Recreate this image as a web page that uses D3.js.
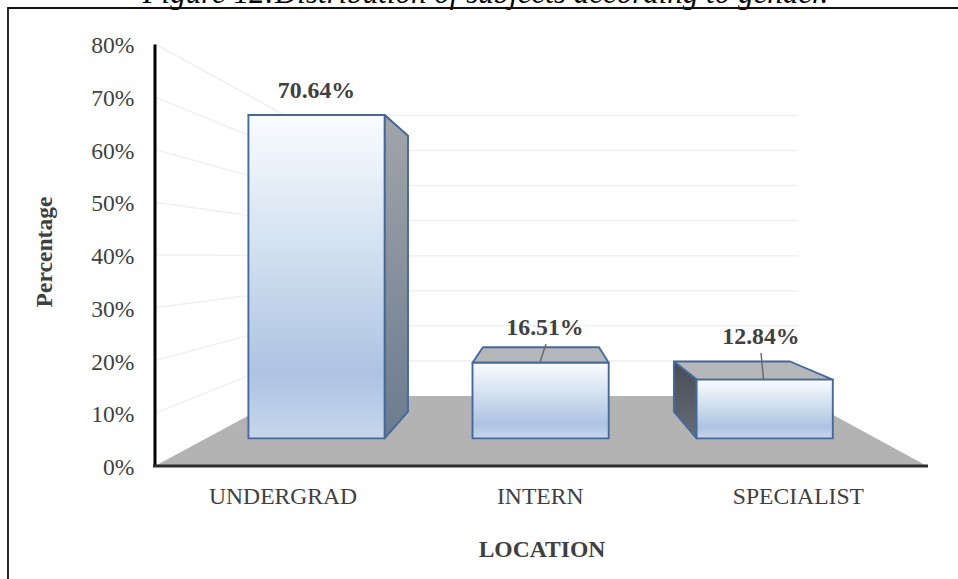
<!DOCTYPE html>
<html><head><meta charset="utf-8">
<style>html,body{margin:0;padding:0;background:#fff}svg{display:block}text{font-family:"Liberation Serif",serif}</style>
<script src="https://cdn.jsdelivr.net/npm/d3@7/dist/d3.min.js"></script></head>
<body><svg id="c" width="958" height="579"></svg>
<script>
const categories=["UNDERGRAD","INTERN","SPECIALIST"];
const values=[70.64,16.51,12.84];
const valueLabels=["70.64%","16.51%","12.84%"];
const yTicks=[0,10,20,30,40,50,60,70,80];
const titleText="Figure 12:Distribution of subjects according to gender.";
const xTitle="LOCATION", yTitle="Percentage";

const svg=d3.select("#c");
const x=d3.scaleBand().domain(categories).range([153,927.5]).paddingInner(0.392).paddingOuter(0.196);
const y=d3.scaleLinear().domain([0,80]).range([466,44]);
// one-point perspective: s=1 at the axes plane, smaller further back
const vp=[543,257], S={front:1,barF:0.868,barB:0.74,back:0.665};
const P=(X,v,s)=>[vp[0]+(X-vp[0])*s, vp[1]+(y(v)-vp[1])*s];
const line=pts=>"M"+pts.map(p=>p.map(n=>n.toFixed(1)).join(",")).join("L")+"Z";
const open=pts=>"M"+pts.map(p=>p.map(n=>n.toFixed(1)).join(",")).join("L");

const defs=svg.append("defs");
function grad(id,stops){const g=defs.append("linearGradient").attr("id",id).attr("x1",0).attr("x2",0).attr("y1",0).attr("y2",1);
 stops.forEach(([o,c])=>g.append("stop").attr("offset",o).attr("stop-color",c));}
grad("front",[[0,"#f9fcff"],[0.45,"#cfdeef"],[0.8,"#adc3e2"],[1,"#c6d7ec"]]);
grad("side",[[0,"#a2a5aa"],[1,"#6b7b8f"]]);
grad("left",[[0,"#474b54"],[1,"#666d78"]]);

// title
svg.append("text").text(titleText).attr("x",485.5).attr("y",2.5).attr("text-anchor","middle")
  .attr("font-size",31).attr("font-style","italic").attr("fill","#000");
// frame
svg.append("path").attr("d","M8,579L8,8L958,8").attr("fill","none").attr("stroke","#111").attr("stroke-width",1.8);

const x0=155,x1=927;
// gridlines
svg.append("g").selectAll("path").data(yTicks.filter(d=>d>0)).join("path")
  .attr("d",d=>open([P(x0,d,S.front),P(x0,d,S.back),P(x1,d,S.back)]))
  .attr("fill","none").attr("stroke","#f0f0f0").attr("stroke-width",1.5);
// floor
svg.append("path").attr("d",line([P(x0,0,S.front),P(x0,0,S.back),P(x1,0,S.back),P(x1,0,S.front)])).attr("fill","#b3b3b3");

// bars
const barStroke="#46699c";
const bars=svg.append("g").selectAll("g").data(categories.map((c,i)=>({c,v:values[i],l:valueLabels[i]}))).join("g");
bars.each(function(d){
  const g=d3.select(this), a=x(d.c), b=a+x.bandwidth();
  const F=S.barF,B=S.barB;
  const face=(pts,fill)=>g.append("path").attr("d",line(pts)).attr("fill",fill).attr("stroke",barStroke).attr("stroke-width",1.9).attr("stroke-linejoin","round");
  face([P(a,d.v,F),P(a,d.v,B),P(b,d.v,B),P(b,d.v,F)],"#b5b7ba");
  if(b<vp[0]) face([P(b,d.v,F),P(b,d.v,B),P(b,0,B),P(b,0,F)],"url(#side)");
  if(a>vp[0]) face([P(a,d.v,F),P(a,d.v,B),P(a,0,B),P(a,0,F)],"url(#left)");
  face([P(a,d.v,F),P(b,d.v,F),P(b,0,F),P(a,0,F)],"url(#front)");
});

// axes
const yAxis=d3.axisLeft(y).tickValues(yTicks).tickFormat(d=>d+"%").tickSize(0).tickPadding(20);
const gy=svg.append("g").attr("transform",`translate(${x0-0.5},0)`).call(yAxis);
gy.select(".domain").attr("stroke","#000").attr("stroke-width",3);
gy.selectAll("text").attr("font-size",23.6).attr("fill","#404040").attr("font-family","Liberation Serif").attr("dy","0.37em");
svg.append("line").attr("x1",x0-2).attr("x2",x1+1).attr("y1",y(0)).attr("y2",y(0)).attr("stroke","#2e2e2e").attr("stroke-width",3);

svg.append("g").selectAll("text").data(categories).join("text").text(d=>d)
  .attr("x",(d,i)=>x(d)+x.bandwidth()/2+(i===0?1:0)).attr("y",503.5).attr("text-anchor","middle")
  .attr("font-size",23.6).attr("fill","#404040");
// titles
svg.append("text").text(xTitle).attr("x",542).attr("y",556.5).attr("text-anchor","middle")
  .attr("font-size",23.6).attr("font-weight","bold").attr("fill","#404040");
svg.append("text").text(yTitle).attr("transform","translate(52,252) rotate(-90)").attr("text-anchor","middle")
  .attr("font-size",23.6).attr("font-weight","bold").attr("fill","#404040");

// data labels with leader lines
const labelPos=[[316.5,98],[545,335],[761,344]];
const leaders=[null,[[540,362],[546,344]],[[763.5,379],[761,353]]];
leaders.forEach(l=>{if(l)svg.append("path").attr("d",open(l)).attr("stroke","#666").attr("stroke-width",1.4).attr("fill","none");});
svg.append("g").selectAll("text").data(valueLabels).join("text").text(d=>d)
  .attr("x",(d,i)=>labelPos[i][0]).attr("y",(d,i)=>labelPos[i][1]).attr("text-anchor","middle")
  .attr("font-size",23.8).attr("font-weight","bold").attr("fill","#404040");
</script></body></html>
